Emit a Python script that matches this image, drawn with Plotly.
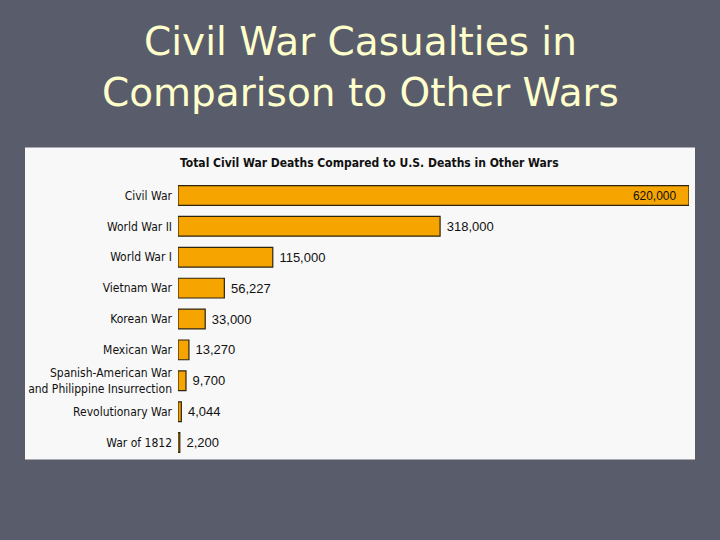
import plotly.graph_objects as go

wars = ["Civil War", "World War II", "World War I", "Vietnam War", "Korean War",
        "Mexican War", "Spanish-American War<br>and Philippine Insurrection",
        "Revolutionary War", "War of 1812"]
deaths = [620000, 318000, 115000, 56227, 33000, 13270, 9700, 4044, 2200]
value_labels = ["620,000", "318,000", "115,000", "56,227", "33,000", "13,270", "9,700", "4,044", "2,200"]

slide_title = "Civil War Casualties in<br>Comparison to Other Wars"
chart_title = "Total Civil War Deaths Compared to U.S. Deaths in Other Wars"

positions = ["inside"] + ["outside"] * (len(wars) - 1)
templates = ["%{text}\u00a0\u00a0\u00a0"] + ["\u00a0%{text}"] * (len(wars) - 1)

valfont = dict(family="Liberation Sans, Arial, sans-serif", size=13, color="#111111")

fig = go.Figure(go.Bar(
    x=deaths, y=wars, orientation="h",
    text=value_labels, texttemplate=templates, textposition=positions, insidetextanchor="end",
    textfont=valfont, outsidetextfont=valfont, insidetextfont=valfont,
    marker=dict(color="#f5a400", line=dict(color="#2e2410", width=1.2)),
    width=0.64, cliponaxis=False,
))

fig.update_layout(
    width=720, height=540,
    paper_bgcolor="#585c6b", plot_bgcolor="rgba(0,0,0,0)",
    margin=dict(l=178, r=31, t=179.5, b=81.5),
    showlegend=False,
    xaxis=dict(range=[0, 620000], visible=False, fixedrange=True),
    yaxis=dict(autorange=False, range=[8.5, -0.5], categoryorder="array", categoryarray=wars,
               showgrid=False, zeroline=False, showline=False, ticks="", automargin=False,
               ticklabelstandoff=5, fixedrange=True,
               tickfont=dict(family="DejaVu Sans Condensed, Liberation Sans, sans-serif", size=12, color="#111111")),
    shapes=[dict(type="rect", xref="paper", yref="paper", layer="below",
                 x0=(25 - 178) / 511, x1=(695 - 178) / 511,
                 y0=(458.5 - 460) / 279, y1=(458.5 - 147) / 279,
                 fillcolor="#f8f8f8", line=dict(width=0))],
    annotations=[
        dict(text=slide_title, xref="paper", yref="paper", showarrow=False,
             x=(360 - 178) / 511, y=(458.5 - 66) / 279, xanchor="center", yanchor="middle",
             font=dict(family="DejaVu Sans, sans-serif", size=39, color="#ffffcc")),
        dict(text="<b>" + chart_title + "</b>", xref="paper", yref="paper", showarrow=False,
             x=0, y=(458.5 - 162) / 279, xanchor="left", yanchor="middle",
             font=dict(family="DejaVu Sans Condensed, Liberation Sans, sans-serif", size=12, color="#111111")),
    ],
)

fig.write_html("out.html", config={"displayModeBar": False},
               post_script="document.body.style.margin='0';document.body.style.overflow='hidden';")
